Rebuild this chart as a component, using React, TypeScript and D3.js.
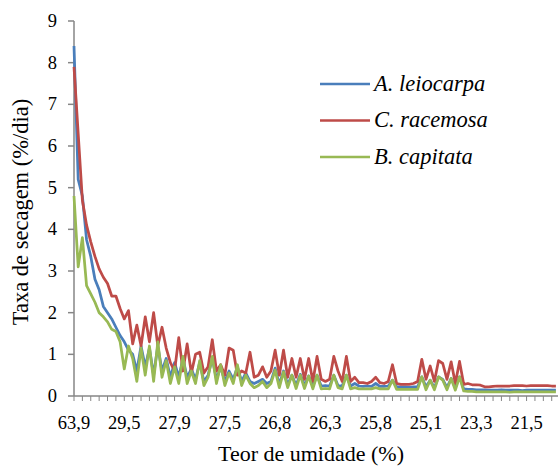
import * as d3 from "d3";

const width = 560;
const height = 468;
const marginLeft = 74;
const marginTop = 21;
const plotRight = 558;
const plotBottom = 396;

// rótulos do eixo x (um a cada 12 leituras)
const xLabels = ["63,9", "29,5", "27,9", "27,5", "26,8", "26,3", "25,8", "25,1", "23,3", "21,5"];
const labelEvery = 12;
const yTicks = [0, 1, 2, 3, 4, 5, 6, 7, 8, 9];

const seriesNames = ["A. leiocarpa", "C. racemosa", "B. capitata"];
const seriesColors = ["#4A7EBB", "#BE4B48", "#98B954"];

const leiocarpa = [
  8.4, 5.2, 4.8, 3.75, 3.35, 2.8, 2.55, 2.15, 2.0, 1.85, 1.65, 1.45, 1.3, 1.1, 1.0, 0.6,
  1.2, 0.7, 1.15, 0.5, 1.2, 0.6, 0.9, 0.45, 0.8, 0.45, 0.9, 0.45, 0.65, 0.4, 0.8, 0.35,
  0.5, 0.9, 0.4, 0.7, 0.35, 0.6, 0.4, 0.7, 0.35, 0.55, 0.35, 0.3, 0.35, 0.4, 0.3, 0.35,
  0.67, 0.28, 0.6, 0.27, 0.5, 0.26, 0.52, 0.25, 0.48, 0.24, 0.5, 0.24, 0.25, 0.24, 0.5, 0.25,
  0.24, 0.5, 0.24, 0.3, 0.24, 0.23, 0.24, 0.23, 0.3, 0.23, 0.23, 0.24, 0.38, 0.22, 0.22, 0.22,
  0.21, 0.22, 0.22, 0.46, 0.22, 0.38, 0.2, 0.46, 0.4, 0.2, 0.42, 0.2, 0.46, 0.17,
  0.16, 0.16, 0.15, 0.15, 0.15, 0.14, 0.14, 0.14, 0.15, 0.14, 0.14, 0.14, 0.14, 0.13, 0.14, 0.14,
  0.14, 0.14, 0.14, 0.14, 0.14, 0.14,
];

const racemosa = [
  7.9, 6.3, 4.7, 4.1, 3.7, 3.35, 3.05, 2.85, 2.7, 2.4, 2.4, 2.1, 1.85, 2.05, 1.25, 1.7,
  1.2, 1.9, 1.3, 2.0, 1.2, 1.65, 1.15, 0.8, 0.6, 1.4, 0.6, 1.25, 0.55, 1.0, 1.05, 0.55,
  0.7, 1.35, 0.6, 0.75, 0.5, 1.15, 1.1, 0.5, 0.6, 0.55, 1.05, 0.45, 0.5, 0.7, 0.45, 0.6,
  1.1, 0.5, 1.1, 0.45, 0.9, 0.45, 0.9, 0.4, 0.9, 0.35, 0.95, 0.4, 0.35, 0.4, 0.95, 0.6,
  0.35, 0.95, 0.35, 0.45, 0.32, 0.32, 0.3, 0.35, 0.45, 0.32, 0.3, 0.35, 0.75, 0.3, 0.28, 0.28,
  0.28, 0.3, 0.35, 0.88, 0.4, 0.72, 0.35, 0.85, 0.78, 0.4, 0.82, 0.3, 0.83, 0.28,
  0.3, 0.27, 0.27, 0.26, 0.22, 0.22, 0.23, 0.24, 0.24, 0.24, 0.24, 0.25, 0.25, 0.25, 0.24, 0.25,
  0.25, 0.25, 0.25, 0.25, 0.24, 0.24,
];

const capitata = [
  4.8, 3.1, 3.8, 2.65, 2.45, 2.25, 2.0, 1.9, 1.78, 1.6, 1.55, 1.3, 0.65, 1.2, 0.9, 0.35,
  1.15, 0.5, 1.2, 0.35, 1.3, 0.45, 0.85, 0.3, 0.7, 0.3, 0.95, 0.3, 0.6, 0.3, 0.85, 0.25,
  0.45, 0.95, 0.3, 0.75, 0.25, 0.55, 0.3, 0.75, 0.25, 0.5, 0.3, 0.2, 0.25, 0.35, 0.2, 0.3,
  0.62, 0.2, 0.58, 0.2, 0.5, 0.18, 0.5, 0.18, 0.48, 0.17, 0.5, 0.17, 0.18, 0.17, 0.5, 0.2,
  0.17, 0.5, 0.17, 0.2, 0.17, 0.17, 0.17, 0.17, 0.2, 0.17, 0.17, 0.17, 0.38, 0.16, 0.16, 0.16,
  0.16, 0.16, 0.16, 0.46, 0.15, 0.38, 0.15, 0.46, 0.38, 0.15, 0.42, 0.14, 0.46, 0.12,
  0.11, 0.11, 0.1, 0.1, 0.1, 0.1, 0.1, 0.1, 0.1, 0.1, 0.09, 0.1, 0.1, 0.1, 0.1, 0.1,
  0.1, 0.1, 0.1, 0.1, 0.1, 0.1,
];

const allSeries = [leiocarpa, racemosa, capitata];

const axisColor = "#868686";
const serif = "Liberation Serif";

const App = () => {
  const n = leiocarpa.length;
  const xScale = d3
    .scaleLinear()
    .domain([0, n - 0.5])
    .range([marginLeft, plotRight]);
  const yScale = d3.scaleLinear().domain([0, 9]).range([plotBottom, marginTop]);

  const line = d3
    .line<number>()
    .x((_, i) => xScale(i))
    .y((d) => yScale(d));

  const xTickIdx = d3.range(0, n, 2);

  return (
    <div style={{ position: "absolute", left: 0, top: 0 }}>
      <svg width={width} height={height} viewBox={`0 0 ${width} ${height}`} style={{ display: "block" }}>
        <rect width={width} height={height} fill="#ffffff" />

        {/* eixo y */}
        <line x1={marginLeft} x2={marginLeft} y1={yScale(9)} y2={yScale(0)} stroke={axisColor} strokeWidth={1.5} />
        {yTicks.map((t) => (
          <g key={t}>
            <line x1={marginLeft - 6} x2={marginLeft} y1={yScale(t)} y2={yScale(t)} stroke={axisColor} strokeWidth={1.5} />
            <text x={marginLeft - 17} y={yScale(t)} dy="0.33em" textAnchor="end" fontFamily={serif} fontSize={18.5}>
              {t}
            </text>
          </g>
        ))}

        {/* eixo x */}
        <line x1={marginLeft} x2={plotRight} y1={plotBottom} y2={plotBottom} stroke={axisColor} strokeWidth={1.5} />
        {xTickIdx.map((i) => (
          <line key={i} x1={xScale(i)} x2={xScale(i)} y1={plotBottom} y2={plotBottom + 5} stroke={axisColor} strokeWidth={1} />
        ))}
        {xLabels.map((lab, k) => (
          <text key={lab} x={xScale(k * labelEvery)} y={429} textAnchor="middle" fontFamily={serif} fontSize={18.5}>
            {lab}
          </text>
        ))}

        {/* séries */}
        {allSeries.map((s, k) => (
          <path
            key={seriesNames[k]}
            d={line(s) ?? ""}
            fill="none"
            stroke={seriesColors[k]}
            strokeWidth={2.75}
            strokeLinejoin="round"
          />
        ))}

        {/* legenda */}
        {seriesNames.map((name, k) => (
          <g key={name} transform={`translate(320, ${84 + k * 36.5})`}>
            <line x1={0} x2={50} y1={0} y2={0} stroke={seriesColors[k]} strokeWidth={2.5} />
            <text x={54} y={6.5} fontFamily={serif} fontStyle="italic" fontSize={22.5}>
              {name}
            </text>
          </g>
        ))}

        {/* títulos */}
        <text x={311} y={461} textAnchor="middle" fontFamily={serif} fontSize={22}>
          Teor de umidade (%)
        </text>
        <text
          transform={`translate(28, 212) rotate(-90)`}
          textAnchor="middle"
          fontFamily={serif}
          fontSize={22.5}
        >
          Taxa de secagem (%/dia)
        </text>
      </svg>
    </div>
  );
};

export default App;
